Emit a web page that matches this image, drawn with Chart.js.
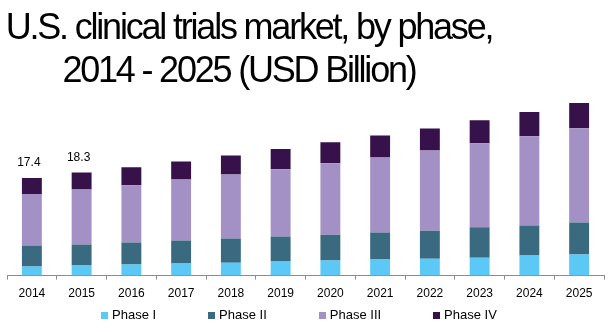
<!DOCTYPE html>
<html lang="en">
<head>
<title>U.S. clinical trials market, by phase</title>
<style>
body { margin: 0; background: #fff; }
.holder { position: relative; width: 614px; height: 332px; overflow: hidden; }
.title {
    position: absolute; left: 0; top: 5px; width: 498px;
    text-align: center; font-family: "Liberation Sans", Arial, sans-serif;
    font-size: 36px; line-height: 43px; color: #000; white-space: nowrap;
    letter-spacing: -2.2px;
}
.title .l2 { margin-right: 20px; }
.legend {
    position: absolute; left: 101px; top: 307px;
    display: flex; gap: 52px;
    font-family: "Liberation Sans", Arial, sans-serif; font-size: 13px; color: #000;
}
.legend span.box { display: inline-block; width: 7px; height: 7px; margin-right: 4px; }
canvas { position: absolute; left: 0; top: 0; }
</style>
</head>
<body>
<div class="holder">
    <canvas id="canvas" width="614" height="332"></canvas>
    <div class="title">U.S. clinical trials market, by phase,<br><span class="l2">2014 - 2025 (USD Billion)</span></div>
    <div class="legend" id="hlegend"></div>
</div>

<script src="https://cdn.jsdelivr.net/npm/chart.js"></script>
<script>
const years = ["2014","2015","2016","2017","2018","2019","2020","2021","2022","2023","2024","2025"];
const phaseNames = ["Phase I","Phase II","Phase III","Phase IV"];
const phaseColors = ["#5bc8f5","#3a6a80","#a390c4","#37114a"];
const phase1 = [1.6, 1.8, 1.96, 2.14, 2.3, 2.5, 2.7, 2.86, 3.0, 3.2, 3.57, 3.75];
const phase2 = [3.77, 3.75, 3.93, 4.1, 4.3, 4.46, 4.6, 4.8, 5.0, 5.4, 5.36, 5.7];
const phase3 = [9.15, 9.8, 10.2, 10.9, 11.4, 12.0, 12.7, 13.4, 14.3, 15.0, 15.9, 16.8];
const phase4 = [2.87, 3.0, 3.2, 3.2, 3.4, 3.6, 3.75, 3.9, 3.9, 4.1, 4.3, 4.5];
const totalLabels = ["17.4", "18.3"]; // only the first two bars are labelled

const phaseData = [phase1, phase2, phase3, phase4];
const fontFam = '"Liberation Sans", Arial, sans-serif';

// legend (html)
const hlegend = document.getElementById("hlegend");
phaseNames.forEach((n, i) => {
    hlegend.innerHTML += '<div><span class="box" style="background:' + phaseColors[i] + '"></span>' + n + '</div>';
});

// totals above bars
const totalsPlugin = {
    id: 'totals',
    afterDatasetsDraw(chart) {
        const ctx = chart.ctx;
        const meta = chart.getDatasetMeta(chart.data.datasets.length - 1);
        ctx.save();
        ctx.font = '12px ' + fontFam;
        ctx.fillStyle = '#000';
        ctx.textAlign = 'center';
        ctx.textBaseline = 'middle';
        totalLabels.forEach((t, i) => {
            const bar = meta.data[i];
            ctx.fillText(t, bar.x - 3, bar.y - 15);
        });
        ctx.restore();
    }
};

const ctx = document.getElementById('canvas').getContext("2d");
let mychart = new Chart(ctx, {
    type: 'bar',
    data: {
        labels: years,
        datasets: phaseData.map((d, i) => ({
            label: phaseNames[i],
            data: d,
            backgroundColor: phaseColors[i],
            borderWidth: 0,
            categoryPercentage: 1,
            barPercentage: 0.4
        }))
    },
    options: {
        responsive: false,
        animation: false,
        layout: { padding: { left: 7, right: 10, top: 96, bottom: 24 } },
        plugins: {
            legend: { display: false },
            tooltip: { enabled: false },
            title: { display: false }
        },
        scales: {
            x: {
                stacked: true,
                border: { color: '#8c8c8c', width: 1 },
                grid: { drawOnChartArea: false, tickLength: 4, color: '#8c8c8c', offset: true },
                ticks: { color: '#000', padding: 7, font: { family: fontFam, size: 12 }, maxRotation: 0 }
            },
            y: {
                stacked: true,
                display: false,
                min: 0,
                max: 32
            }
        }
    },
    plugins: [totalsPlugin]
});
</script>
</body>
</html>
